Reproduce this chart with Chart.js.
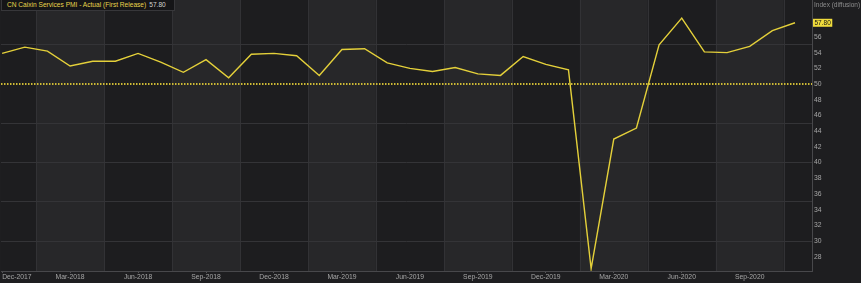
<!DOCTYPE html>
<html>
<head>
<meta charset="utf-8">
<script src="https://cdn.jsdelivr.net/npm/chart.js@4.4.0/dist/chart.umd.min.js"></script>
<style>
    html, body { margin: 0; padding: 0; background: #1e1e20; overflow: hidden; }
    #wrap { position: relative; width: 861px; height: 283px; }
    #legend {
        position: absolute; left: 1px; top: 0; width: 174px; height: 11px;
        background: #151517; border: 1px solid #37373a; border-top: none; box-sizing: border-box;
        font: 6.6px 'Liberation Sans', Arial, sans-serif; line-height: 10px;
        color: #e8d44c; padding-left: 5px; white-space: nowrap;
    }
    #legend span { color: #d2d2d2; margin-left: 3px; }
</style>
</head>
<body>
<div id="wrap">
    <canvas id="pmiChart" width="861" height="283"></canvas>
    <div id="legend">CN Caixin Services PMI - Actual (First Release)<span>57.80</span></div>
</div>
<script>
// monthly releases, Dec-2017 .. Nov-2020
const months = [
    'Dec-2017', 'Jan-2018', 'Feb-2018', 'Mar-2018', 'Apr-2018', 'May-2018', 'Jun-2018',
    'Jul-2018', 'Aug-2018', 'Sep-2018', 'Oct-2018', 'Nov-2018', 'Dec-2018',
    'Jan-2019', 'Feb-2019', 'Mar-2019', 'Apr-2019', 'May-2019', 'Jun-2019',
    'Jul-2019', 'Aug-2019', 'Sep-2019', 'Oct-2019', 'Nov-2019', 'Dec-2019',
    'Jan-2020', 'Feb-2020', 'Mar-2020', 'Apr-2020', 'May-2020', 'Jun-2020',
    'Jul-2020', 'Aug-2020', 'Sep-2020', 'Oct-2020', 'Nov-2020'
];
const pmiValues = [
    53.9, 54.7, 54.2, 52.3, 52.9, 52.9, 53.9,
    52.8, 51.5, 53.1, 50.8, 53.8, 53.9,
    53.6, 51.1, 54.4, 54.5, 52.7, 52.0,
    51.6, 52.1, 51.3, 51.1, 53.5, 52.5,
    51.8, 26.5, 43.0, 44.4, 55.0, 58.4,
    54.1, 54.0, 54.8, 56.8, 57.8
];
const tickMonths = ['Dec-2017', 'Mar-2018', 'Jun-2018', 'Sep-2018', 'Dec-2018', 'Mar-2019',
    'Jun-2019', 'Sep-2019', 'Dec-2019', 'Mar-2020', 'Jun-2020', 'Sep-2020'];
const yLabels = [28, 30, 32, 34, 36, 38, 40, 42, 44, 46, 48, 50, 52, 54, 56];
const gridLevels = [30, 35, 40, 45, 55, 60];
const referenceLevel = 50;

const xMin = -0.05, xMax = 35.75;
const yMin = 26.2, yMax = 60.7;
const lastValue = pmiValues[pmiValues.length - 1];
const axisFont = { family: "'Liberation Sans', Arial, sans-serif", size: 6.8 };

// alternating quarter bands behind the plot
const bandsPlugin = {
    id: 'bands',
    beforeDraw(chart) {
        const { ctx, chartArea: a, scales: { x } } = chart;
        ctx.save();
        ctx.fillStyle = '#1d1d1f';
        ctx.fillRect(a.left, a.top, a.right - a.left, a.bottom - a.top);
        ctx.fillStyle = '#272729';
        for (let s = 1.5; s < xMax; s += 6) {
            const x0 = x.getPixelForValue(s);
            const x1 = x.getPixelForValue(Math.min(s + 3, xMax));
            ctx.fillRect(x0, a.top, x1 - x0, a.bottom - a.top);
        }
        ctx.strokeStyle = '#323235';
        ctx.lineWidth = 1;
        for (let s = 1.5; s < xMax; s += 3) {
            const px = Math.round(x.getPixelForValue(s)) + 0.5;
            ctx.beginPath();
            ctx.moveTo(px, a.top);
            ctx.lineTo(px, a.bottom);
            ctx.stroke();
        }
        ctx.restore();
    },
    afterDraw(chart) {
        const { ctx, chartArea: a, scales: { y } } = chart;
        ctx.save();
        ctx.font = "6.5px 'Liberation Sans', Arial, sans-serif";
        ctx.textBaseline = 'middle';
        ctx.fillStyle = '#8d8d8d';
        ctx.fillText('Index (diffusion)', a.right + 2, 5);
        // last value badge
        const txt = lastValue.toFixed(2);
        const w = ctx.measureText(txt).width + 3;
        const py = y.getPixelForValue(lastValue);
        ctx.fillStyle = '#f0dc3c';
        ctx.fillRect(a.right + 1, py - 4, w, 8);
        ctx.fillStyle = '#141414';
        ctx.fillText(txt, a.right + 2.5, py + 0.5);
        ctx.restore();
    }
};

new Chart(document.getElementById('pmiChart').getContext('2d'), {
    type: 'line',
    data: {
        datasets: [
            {
                label: 'CN Caixin Services PMI - Actual (First Release)',
                data: pmiValues.map((v, i) => ({ x: i, y: v })),
                borderColor: '#e4d03a',
                borderWidth: 1.4,
                pointRadius: 0,
                tension: 0
            },
            {
                label: 'Reference',
                data: [{ x: xMin, y: referenceLevel }, { x: xMax, y: referenceLevel }],
                borderColor: '#cdb935',
                borderWidth: 2,
                borderDash: [1.5, 1.5],
                pointRadius: 0
            }
        ]
    },
    options: {
        responsive: false,
        animation: false,
        layout: { padding: { left: 1, top: 0, right: 0, bottom: 0 } },
        plugins: { legend: { display: false }, tooltip: { enabled: false } },
        scales: {
            x: {
                type: 'linear',
                min: xMin,
                max: xMax,
                afterBuildTicks: scale => {
                    scale.ticks = tickMonths.map(m => ({ value: months.indexOf(m) }))
                        .concat([{ value: xMax }]);
                },
                afterFit: scale => {
                    scale.height = 12;
                    scale.paddingLeft = 0;
                    scale.paddingRight = 0;
                },
                ticks: {
                    autoSkip: false,
                    maxRotation: 0,
                    align: 'inner',
                    padding: 0,
                    color: '#a6a6a6',
                    font: axisFont,
                    callback: v => (tickMonths.includes(months[v]) ? months[v] : '')
                },
                grid: {
                    drawOnChartArea: false,
                    drawTicks: true,
                    tickLength: 2,
                    color: ctx => (ctx.tick && ctx.tick.value === xMax ? 'transparent' : '#555558')
                },
                border: { display: true, color: '#48484b' }
            },
            y: {
                position: 'right',
                min: yMin,
                max: yMax,
                afterFit: scale => {
                    scale.width = 49;
                    scale.paddingTop = 0;
                    scale.paddingBottom = 0;
                },
                ticks: {
                    stepSize: 1,
                    autoSkip: false,
                    padding: 2,
                    color: '#a6a6a6',
                    font: axisFont,
                    callback: v => (yLabels.includes(v) ? v : '')
                },
                grid: {
                    drawTicks: false,
                    color: ctx => (ctx.tick && gridLevels.includes(ctx.tick.value) ? '#343437' : 'transparent')
                },
                border: { display: true, color: '#48484b' }
            }
        }
    },
    plugins: [bandsPlugin]
});
</script>
</body>
</html>
